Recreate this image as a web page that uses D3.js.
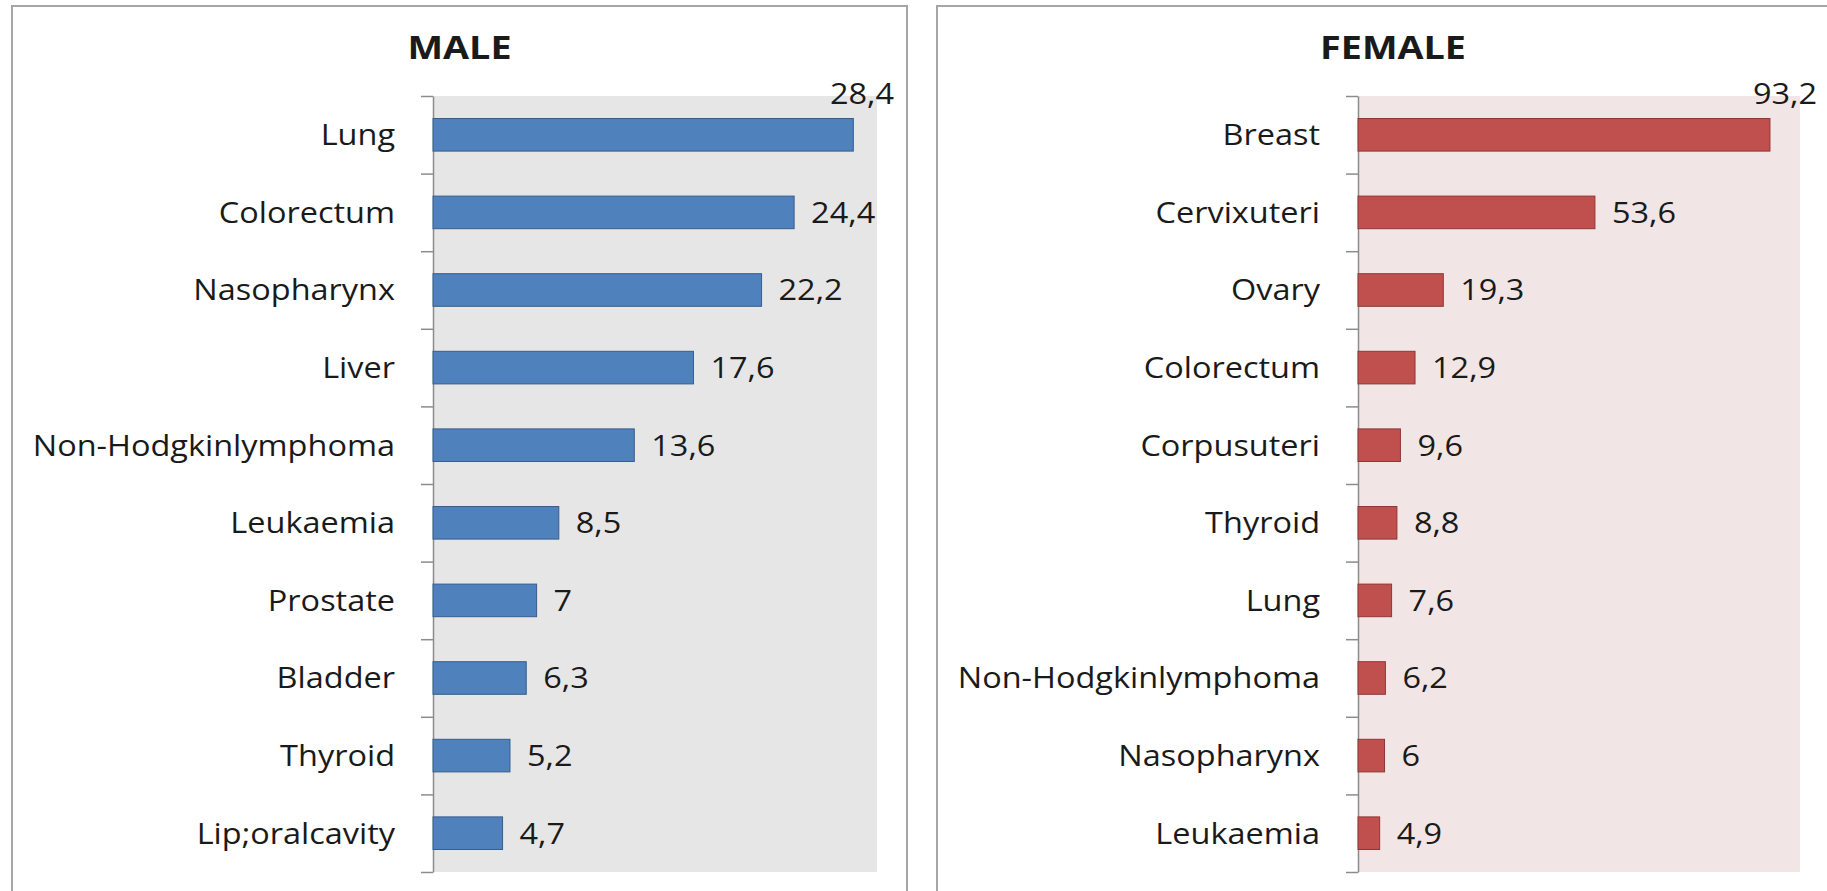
<!DOCTYPE html>
<html>
<head>
<meta charset="utf-8">
<script src="https://cdn.jsdelivr.net/npm/d3@7"></script>
<style>
  body { margin: 0; background: #fff; }
  text { font-family: "Open Sans", sans-serif; fill: #1a1a1a; }
</style>
</head>
<body>
<div id="chart"></div>
<script>
// data
var maleCategories = ["Lung", "Colorectum", "Nasopharynx", "Liver", "Non-Hodgkinlymphoma",
  "Leukaemia", "Prostate", "Bladder", "Thyroid", "Lip;oralcavity"];
var maleValues = [28.4, 24.4, 22.2, 17.6, 13.6, 8.5, 7, 6.3, 5.2, 4.7];

var femaleCategories = ["Breast", "Cervixuteri", "Ovary", "Colorectum", "Corpusuteri",
  "Thyroid", "Lung", "Non-Hodgkinlymphoma", "Nasopharynx", "Leukaemia"];
var femaleValues = [93.2, 53.6, 19.3, 12.9, 9.6, 8.8, 7.6, 6.2, 6, 4.9];

var maleDomain = [0, 30];
var femaleDomain = [0, 100];

// the whole picture
var svg = d3.select("#chart")
  .append("svg")
  .attr("width", 1827)
  .attr("height", 891);

// text is a bit wide in the original, so stretch it
var stretch = 1.12;

function drawPanel(p) {
  // outer frame of the chart
  svg.append("rect")
    .attr("x", p.left)
    .attr("y", 6)
    .attr("width", p.width)
    .attr("height", 900)
    .attr("fill", "#fff")
    .attr("stroke", "#a6a6a6")
    .attr("stroke-width", 2);

  // title
  svg.append("text")
    .attr("transform", "translate(" + (p.left + p.width / 2) + ",59) scale(1.18,1)")
    .style("text-anchor", "middle")
    .style("font-weight", "bold")
    .style("font-size", "32px")
    .text(p.title);

  var margin = { top: 96, left: p.plotLeft },
    height = 776;

  var g = svg.append("g")
    .attr("transform", "translate(" + margin.left + "," + margin.top + ")");

  // plot background
  g.append("rect")
    .attr("x", 0)
    .attr("y", 0)
    .attr("width", p.plotWidth)
    .attr("height", height)
    .attr("fill", p.bg);

  var x = d3.scaleLinear()
    .domain(p.domain)
    .range([0, p.plotWidth]);

  var y = d3.scaleBand()
    .domain(p.categories)
    .range([0, height]);

  // category labels + axis line
  var labelAxis = g.append("g")
    .call(d3.axisLeft(y).tickSize(0).tickPadding(38).tickSizeOuter(0));
  labelAxis.select(".domain").attr("stroke", "#8c8c8c").attr("stroke-width", 1.5);
  labelAxis.selectAll("text")
    .style("font-size", "29px")
    .style("font-family", "'Open Sans', sans-serif")
    .attr("fill", "#1a1a1a")
    .attr("dy", "0.36em")
    .attr("transform", function () {
      var tx = d3.select(this).attr("x");
      return "translate(" + tx + ",0) scale(" + stretch + ",1) translate(" + (-tx) + ",0)";
    });

  // tick marks between the categories
  var edges = d3.scaleLinear()
    .domain([0, p.categories.length])
    .range([0, height]);
  var tickAxis = g.append("g")
    .call(d3.axisLeft(edges)
      .tickValues(d3.range(p.categories.length + 1))
      .tickSize(12)
      .tickFormat(""));
  tickAxis.select(".domain").remove();
  tickAxis.selectAll("line").attr("stroke", "#8c8c8c").attr("stroke-width", 1.5);

  var barH = y.bandwidth() * 0.42;

  // bars
  g.append("g")
    .selectAll("rect")
    .data(p.values)
    .enter()
    .append("rect")
    .attr("x", 0)
    .attr("y", function (d, i) { return y(p.categories[i]) + (y.bandwidth() - barH) / 2; })
    .attr("width", function (d) { return x(d); })
    .attr("height", barH)
    .attr("fill", p.color)
    .attr("stroke", p.edge)
    .attr("stroke-width", 1);

  // value labels, excel moves the ones that do not fit above the bar
  p.values.forEach(function (d, i) {
    var label = String(d).replace(".", ",");
    var cy = y(p.categories[i]) + y.bandwidth() / 2;
    var t = g.append("text")
      .style("font-size", "29px")
      .text(label);
    var w = t.node().getComputedTextLength() * stretch;
    if (x(d) + 17 + w > p.plotWidth + 5) {
      t.attr("transform", "translate(" + (p.plotWidth + 17) + "," + (cy - barH / 2 - 15) + ") scale(" + stretch + ",1)")
        .style("text-anchor", "end");
    } else {
      t.attr("transform", "translate(" + (x(d) + 17) + "," + cy + ") scale(" + stretch + ",1)")
        .attr("dy", "0.36em");
    }
  });
}

drawPanel({
  title: "MALE", left: 12, width: 895, plotLeft: 433, plotWidth: 444,
  categories: maleCategories, values: maleValues, domain: maleDomain,
  bg: "#e6e6e6", color: "#4f81bd", edge: "#385d8a"
});

drawPanel({
  title: "FEMALE", left: 937, width: 912, plotLeft: 1358, plotWidth: 442,
  categories: femaleCategories, values: femaleValues, domain: femaleDomain,
  bg: "#f2e5e5", color: "#c0504d", edge: "#8c3836"
});
</script>
</body>
</html>
